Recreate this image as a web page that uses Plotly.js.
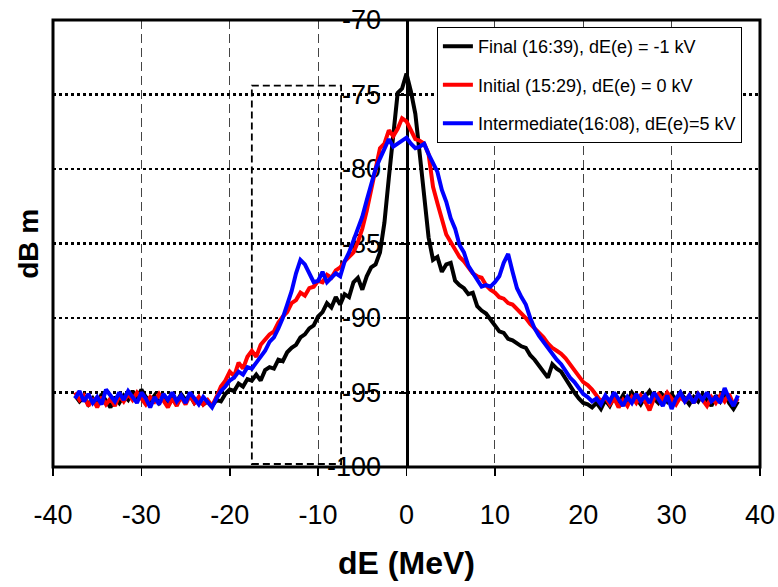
<!DOCTYPE html>
<html>
<head>
<meta charset="utf-8">
<script src="https://cdn.plot.ly/plotly-3.0.1.min.js"></script>
<style>html,body{margin:0;padding:0;background:#fff;}#chart{width:778px;height:587px;}</style>
</head>
<body>
<div id="chart"></div>
<script>
const dE = [-37.5,-37,-36.5,-36,-35.5,-35,-34.5,-34,-33.5,-33,-32.5,-32,-31.5,-31,-30.5,-30,-29.5,-29,-28.5,-28,-27.5,-27,-26.5,-26,-25.5,-25,-24.5,-24,-23.5,-23,-22.5,-22,-21.5,-21,-20.5,-20,-19.5,-19,-18.5,-18,-17.5,-17,-16.5,-16,-15.5,-15,-14.5,-14,-13.5,-13,-12.5,-12,-11.5,-11,-10.5,-10,-9.5,-9,-8.5,-8,-7.5,-7,-6.5,-6,-5.5,-5,-4.5,-4,-3.5,-3,-2.5,-2,-1.5,-1,-0.5,0,0.5,1,1.5,2,2.5,3,3.5,4,4.5,5,5.5,6,6.5,7,7.5,8,8.5,9,9.5,10,10.5,11,11.5,12,12.5,13,13.5,14,14.5,15,15.5,16,16.5,17,17.5,18,18.5,19,19.5,20,20.5,21,21.5,22,22.5,23,23.5,24,24.5,25,25.5,26,26.5,27,27.5,28,28.5,29,29.5,30,30.5,31,31.5,32,32.5,33,33.5,34,34.5,35,35.5,36,36.5,37,37.5];

const finalDbm = [-95.2,-95.6,-95.3,-95.8,-95.4,-95.9,-95.1,-95.6,-96.0,-95.3,-95.7,-95.2,-95.5,-94.9,-95.4,-94.8,-95.3,-95.6,-95.2,-95.7,-95.3,-95.9,-95.4,-95.6,-95.1,-95.5,-95.2,-95.7,-95.4,-95.8,-95.6,-95.9,-95.5,-95.6,-95.1,-94.8,-94.9,-94.4,-94.6,-94.1,-94.2,-93.8,-94.2,-93.5,-93.3,-93.4,-92.8,-92.9,-92.3,-92.0,-91.8,-91.3,-91.1,-90.7,-90.5,-89.9,-89.6,-89.0,-89.3,-88.6,-89.1,-88.4,-88.6,-87.6,-87.3,-88.1,-87.2,-86.6,-86.4,-85.6,-83.6,-80.6,-77.6,-74.9,-74.6,-73.6,-74.8,-76.3,-79.0,-81.8,-84.6,-86.1,-85.9,-86.9,-86.4,-86.3,-87.5,-87.8,-88.0,-88.4,-88.3,-89.2,-89.5,-89.7,-90.1,-90.4,-90.9,-91.0,-91.4,-91.5,-91.7,-91.9,-92.0,-92.5,-92.8,-93.2,-93.7,-94.0,-93.1,-93.4,-93.6,-94.1,-94.6,-95.0,-95.4,-95.7,-95.8,-96.0,-95.7,-96.1,-95.5,-95.9,-95.3,-95.7,-95.2,-95.6,-95.0,-95.4,-95.8,-95.3,-94.9,-95.4,-95.7,-95.2,-95.6,-95.1,-95.5,-95.0,-95.4,-95.8,-95.3,-95.6,-95.1,-95.5,-95.9,-95.2,-95.6,-95.0,-95.7,-96.1,-95.6];

const initialDbm = [-95.0,-95.5,-95.2,-95.9,-95.4,-96.0,-95.3,-95.8,-95.4,-95.9,-95.2,-95.6,-95.1,-95.5,-95.0,-95.4,-95.8,-95.3,-95.6,-95.1,-95.5,-96.0,-95.4,-95.9,-95.3,-95.8,-95.2,-95.7,-95.3,-95.8,-95.5,-95.9,-95.3,-94.6,-94.2,-93.6,-93.9,-93.0,-93.4,-92.6,-92.2,-92.6,-91.8,-91.4,-91.1,-90.9,-90.3,-89.9,-89.6,-89.0,-88.8,-88.3,-88.5,-88.0,-87.9,-87.5,-87.6,-87.1,-87.3,-86.8,-86.6,-86.2,-85.9,-85.6,-84.9,-84.0,-82.8,-81.3,-80.0,-78.6,-78.3,-77.4,-77.8,-77.3,-76.6,-76.8,-77.4,-78.0,-78.1,-78.3,-79.0,-81.2,-82.3,-83.3,-84.4,-84.9,-85.4,-85.9,-86.2,-86.6,-87.0,-87.2,-87.3,-87.8,-88.1,-88.3,-88.6,-88.7,-89.0,-89.1,-89.4,-89.7,-90.0,-90.4,-90.7,-91.0,-91.3,-91.7,-92.0,-92.2,-92.4,-92.7,-93.1,-93.4,-93.8,-94.3,-94.5,-94.8,-95.2,-95.6,-95.3,-95.8,-95.4,-96.0,-95.5,-95.9,-95.3,-95.7,-95.2,-95.6,-96.2,-95.4,-95.1,-95.5,-95.0,-95.4,-95.8,-95.3,-95.6,-95.2,-95.7,-95.1,-95.5,-95.9,-95.3,-95.7,-95.2,-95.6,-95.1,-95.8,-95.4];

const intermediateDbm = [-95.4,-94.9,-95.6,-95.1,-95.7,-95.3,-95.8,-94.8,-95.2,-95.6,-95.0,-95.5,-94.9,-95.3,-95.7,-95.0,-95.4,-96.0,-95.3,-95.8,-95.1,-95.5,-95.0,-95.6,-95.2,-95.7,-95.0,-95.4,-95.8,-95.3,-95.7,-96.0,-95.4,-94.9,-94.6,-94.2,-94.0,-93.6,-93.8,-93.3,-93.4,-93.0,-92.7,-92.2,-91.6,-91.3,-90.7,-90.0,-89.1,-88.2,-87.0,-86.1,-86.4,-87.0,-87.6,-87.5,-86.9,-87.6,-87.3,-87.0,-87.2,-86.2,-85.6,-84.8,-84.1,-83.2,-82.1,-81.0,-80.0,-79.3,-78.7,-78.0,-78.5,-78.3,-78.1,-77.9,-78.3,-78.6,-78.5,-78.3,-79.0,-79.6,-80.2,-81.4,-82.2,-83.3,-84.0,-85.1,-85.6,-86.5,-87.0,-87.5,-87.9,-87.8,-87.9,-87.6,-87.2,-86.3,-85.7,-86.9,-88.0,-88.6,-89.1,-90.0,-90.7,-91.2,-91.6,-92.1,-92.5,-92.8,-93.1,-93.6,-94.0,-94.3,-94.7,-95.1,-95.3,-95.6,-95.4,-95.8,-95.2,-95.6,-95.0,-95.5,-95.9,-95.3,-95.7,-95.1,-95.6,-95.2,-95.7,-95.0,-95.5,-95.9,-95.2,-96.1,-95.4,-95.0,-95.6,-95.2,-95.7,-95.1,-95.5,-95.0,-95.6,-95.3,-95.7,-94.7,-95.4,-95.9,-95.2];

const seriesNames = ['Final (16:39), dE(e) = -1 kV', 'Initial (15:29), dE(e) = 0 kV', 'Intermediate(16:08), dE(e)=5 kV'];
const seriesColors = ['#000000', '#ff0000', '#0000ff'];
const seriesValues = [finalDbm, initialDbm, intermediateDbm];

const xTicks = [-40,-30,-20,-10,0,10,20,30,40];
const yTicks = [-100,-95,-90,-85,-80,-75,-70];

const traces = seriesValues.map((vals, i) => ({
  type: 'scatter', mode: 'lines',
  x: dE, y: vals,
  name: seriesNames[i],
  legendgroup: 'g' + i,
  line: {color: seriesColors[i], width: 4},
  hoverinfo: 'skip'
}));

const FONT = '"Liberation Sans", Arial, Helvetica, sans-serif';

const layout = {
  width: 778, height: 587,
  margin: {l: 53, r: 18, t: 20, b: 120},
  paper_bgcolor: '#ffffff', plot_bgcolor: '#ffffff',
  font: {family: FONT, color: '#000'},
  showlegend: true,
  legend: {
    x: 0.543, y: 0.984, xanchor: 'left', yanchor: 'top',
    bgcolor: '#ffffff', bordercolor: '#000', borderwidth: 1,
    font: {family: FONT, size: 18, color: '#000'},
    traceorder: 'grouped', tracegroupgap: 12
  },
  xaxis: {
    range: [-40, 40], tickvals: xTicks, ticktext: xTicks.map(String),
    ticks: 'outside', ticklen: 8, tickwidth: 1.5, tickcolor: '#000',
    ticklabelstandoff: 16,
    tickfont: {family: FONT, size: 27, color: '#000'},
    showgrid: true, gridcolor: '#444', gridwidth: 1, griddash: '9px,5px',
    zeroline: false, showline: false,
    title: {text: 'dE (MeV)', font: {family: FONT, size: 32, color: '#000', weight: 'bold'}, standoff: 22}
  },
  yaxis: {
    range: [-100, -70], tickvals: yTicks, ticktext: yTicks.map(String),
    anchor: 'free', position: 0.5,
    ticks: 'outside', ticklen: 7, tickwidth: 2, tickcolor: '#000',
    ticklabelstandoff: 12,
    tickfont: {family: FONT, size: 27, color: '#000'},
    showgrid: true, gridcolor: '#000', gridwidth: 2.5, griddash: 'dot',
    zeroline: false, showline: true, linecolor: '#000', linewidth: 3,
    layer: 'below traces'
  },
  shapes: [
    {type: 'rect', xref: 'x', yref: 'y', x0: -17.5, x1: -7.4, y0: -99.8, y1: -74.4,
     line: {color: '#000', width: 1.8, dash: '7px,4px'}, layer: 'below'},
    {type: 'rect', xref: 'paper', yref: 'paper', x0: 0, x1: 1, y0: 0, y1: 1,
     line: {color: '#000', width: 3}, layer: 'above'}
  ],
  annotations: [
    {text: 'dB m', xref: 'paper', yref: 'paper', x: -0.035, y: 0.5, textangle: -90,
     showarrow: false, xanchor: 'center', yanchor: 'middle',
     font: {family: FONT, size: 28, color: '#000', weight: 'bold'}}
  ]
};

Plotly.newPlot('chart', traces, layout, {displayModeBar: false, staticPlot: true});
</script>
</body>
</html>
